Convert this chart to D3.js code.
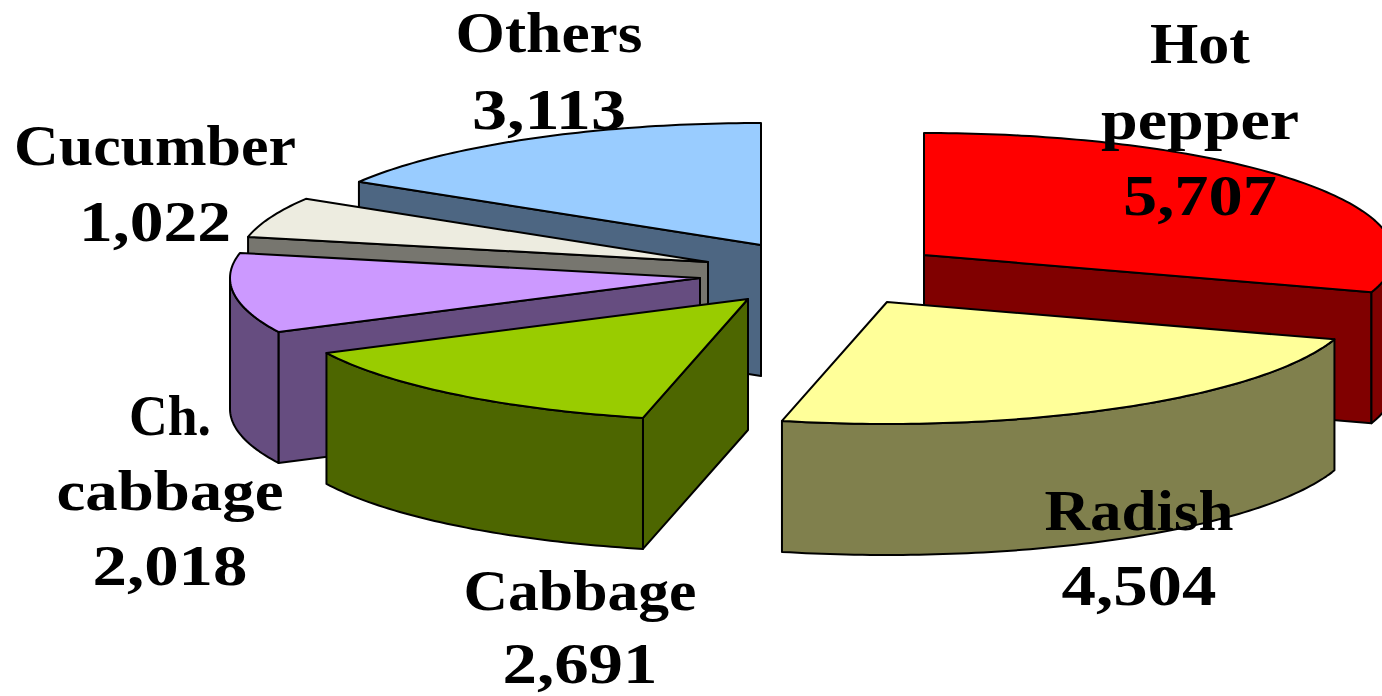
<!DOCTYPE html>
<html><head><meta charset="utf-8">
<script src="https://cdnjs.cloudflare.com/ajax/libs/d3/7.8.5/d3.min.js"></script>
<style>html,body{margin:0;background:#fff;overflow:hidden}svg{display:block}
text{font-family:"Liberation Serif",serif;font-weight:700;font-size:58px;fill:#000;text-anchor:middle}</style>
</head><body><svg id="c" width="1382" height="696"></svg>
<script>
const categories = ["Hot pepper","Radish","Cabbage","Ch. cabbage","Cucumber","Others"];
const values = [5707,4504,2691,2018,1022,3113];
const labelLines = [["Hot","pepper"],["Radish"],["Cabbage"],["Ch.","cabbage"],["Cucumber"],["Others"]];
const topColors = ["#FF0000","#FFFF99","#99CC00","#CC99FF","#EDECE0","#99CCFF"];
const sideColors = ["#800000","#80804D","#4D6600","#664D80","#77766F","#4D6682"];
// layout: apex of each exploded slice on the page
const apexX = [924,887,748,700,708,761];
const apexY = [255,302,299,278,262,245];
const drawOrder = [5,4,3,2,0,1];
// label layout: centre x, first baseline, line spacing, rendered line widths
const labelX = [1200,1139,580,170,155,549];
const labelY = [63,530,610,435,165,52];
const lineGap = [76,75,73,75,76,77];
const lineWidths = [[100,198,154],[189,155],[233,155],[82,227,155],[282,152],[187,154]];
const depth = 131;

const svg = d3.select("#c");
const slices = d3.pie().sort(null).value(d=>d).startAngle(0).endAngle(2*Math.PI)(values);
const rx = d3.scaleLinear().domain([-1,1]).range([-470,470]);
const ry = d3.scaleLinear().domain([-1,1]).range([-122,122]);
const line = d3.line();
const fmt = d3.format(",");

function pt(i,a,dz){return [apexX[i]+rx(Math.sin(a)), apexY[i]-ry(Math.cos(a))+(dz||0)];}
function arcAngles(a0,a1){
  const n=Math.max(2,Math.ceil((a1-a0)/(Math.PI/180)));
  return d3.range(n+1).map(k=>a0+(a1-a0)*k/n);
}
function draw(d,fill){
  svg.append("path").attr("d",line(d)+"Z").attr("fill",fill)
     .attr("stroke","#000").attr("stroke-width",2).attr("stroke-linejoin","round");
}
drawOrder.forEach(i=>{
  const s=slices[i], a0=s.startAngle, a1=s.endAngle, ap=[apexX[i],apexY[i]];
  const ap2=[ap[0],ap[1]+depth];
  // radial faces that look toward the viewer
  if(a0>Math.PI) draw([ap,pt(i,a0),pt(i,a0,depth),ap2],sideColors[i]);
  if(a1<Math.PI) draw([ap,pt(i,a1),pt(i,a1,depth),ap2],sideColors[i]);
  // outer wall, front half only
  const f0=Math.max(a0,Math.PI/2), f1=Math.min(a1,3*Math.PI/2);
  if(f1>f0){
    const as=arcAngles(f0,f1);
    draw(as.map(a=>pt(i,a)).concat(as.slice().reverse().map(a=>pt(i,a,depth))),sideColors[i]);
  }
  // top
  draw([ap].concat(arcAngles(a0,a1).map(a=>pt(i,a))),topColors[i]);
});
categories.forEach((c,i)=>{
  const lines=labelLines[i].concat(fmt(values[i]));
  lines.forEach((t,k)=>svg.append("text").attr("x",labelX[i]).attr("y",labelY[i]+k*lineGap[i])
    .attr("textLength",lineWidths[i][k]).attr("lengthAdjust","spacingAndGlyphs").text(t));
});
</script></body></html>
